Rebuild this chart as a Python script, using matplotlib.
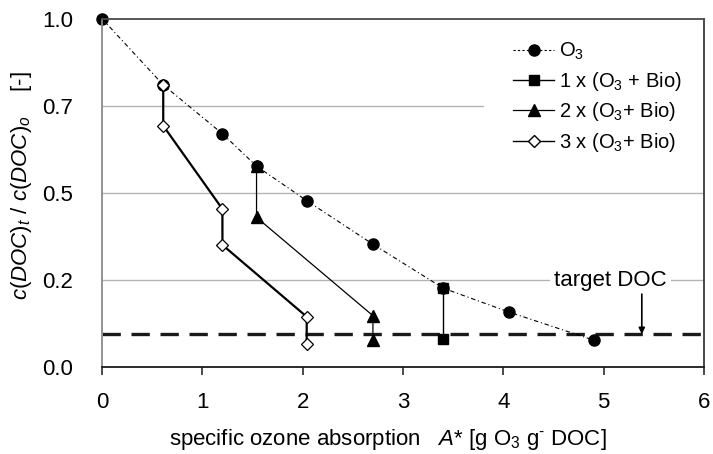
import matplotlib
matplotlib.use("Agg")
import matplotlib.pyplot as plt
from matplotlib.lines import Line2D
from matplotlib.patches import Rectangle

plt.rcParams["font.family"] = ["Liberation Sans", "DejaVu Sans"]
plt.rcParams["mathtext.fontset"] = "custom"
plt.rcParams["mathtext.rm"] = "Liberation Sans"
plt.rcParams["mathtext.it"] = "Liberation Sans:italic"
plt.rcParams["mathtext.bf"] = "Liberation Sans:bold"

# Ozonation only
o3_x = [0.0, 0.61, 1.20, 1.54, 2.04, 2.70, 3.40, 4.06, 4.90]
o3_y = [1.0, 0.81, 0.670, 0.577, 0.478, 0.353, 0.227, 0.158, 0.078]

# One ozonation + biological step
bio1_x = [3.40, 3.40]
bio1_y = [0.227, 0.081]

# Two ozonation + biological steps
bio2_x = [1.54, 1.54, 2.70, 2.70]
bio2_y = [0.577, 0.430, 0.148, 0.078]

# Three ozonation + biological steps
bio3_x = [0.61, 0.61, 1.20, 1.20, 2.04, 2.04]
bio3_y = [0.81, 0.693, 0.454, 0.351, 0.145, 0.066]

target_doc = 0.095
target_arrow_x = 5.38

y_ticks = [0.0, 0.25, 0.5, 0.75, 1.0]
y_ticklabels = ["0.0", "0.2", "0.5", "0.7", "1.0"]
x_ticks = [0, 1, 2, 3, 4, 5, 6]

FS = 16

fig = plt.figure(figsize=(7.13, 4.54), dpi=100)
ax = fig.add_axes([0.1431, 0.1910, 0.8443, 0.7678])
ax.set_xlim(0, 6)
ax.set_ylim(0, 1)

# horizontal grid
for yv in y_ticks[1:-1]:
    ax.axhline(yv, color="#b4b4b4", lw=1.0, zorder=1)

# white panel behind the legend
ax.add_patch(Rectangle((0.635, 0.60), 0.37, 0.40, transform=ax.transAxes,
                       facecolor="white", edgecolor="none", zorder=2))

# target DOC level
ax.axhline(target_doc, color="#1a1a1a", lw=2.4, ls=(0, (5.5, 3.2)), zorder=3)

ms_c = 8.0
ax.plot(o3_x, o3_y, color="black", lw=0.8, ls=(0, (4, 2.5, 1, 2.5)),
        marker="o", ms=ms_c, mfc="black", mec="black", zorder=4, clip_on=False)
ax.plot(bio1_x, bio1_y, color="black", lw=1.0, marker="s", ms=7.0,
        mfc="black", mec="black", zorder=5)
ax.plot(bio2_x, bio2_y, color="black", lw=0.9, marker="^", ms=8.0,
        mfc="black", mec="black", zorder=5)
ax.plot(bio3_x, bio3_y, color="black", lw=1.6, marker="D", ms=6.5,
        mfc="white", mec="black", mew=0.9, zorder=6)

# annotation
ax.text(5.07, 0.25, "target DOC", fontsize=FS, ha="center", va="center",
        bbox=dict(facecolor="white", edgecolor="none", pad=3), zorder=5)
ax.annotate("", xy=(target_arrow_x, target_doc), xytext=(target_arrow_x, 0.21),
            arrowprops=dict(arrowstyle="-|>", color="black", lw=1.2,
                            mutation_scale=9, shrinkA=0, shrinkB=0), zorder=6)

# spines and ticks
ax.spines["left"].set_color("#8a8a8a")
ax.spines["top"].set_color("#4a4a4a")
ax.spines["right"].set_color("#3a3a3a")
ax.spines["bottom"].set_color("#1a1a1a")
for s in ax.spines.values():
    s.set_linewidth(1.3)
    s.set_zorder(7)

ax.set_xticks(x_ticks)
ax.set_xticklabels([str(v) for v in x_ticks])
ax.set_yticks(y_ticks)
ax.set_yticklabels(y_ticklabels)
ax.tick_params(axis="x", direction="out", length=6, width=1.1, pad=12,
               labelsize=FS, color="#1a1a1a")
ax.tick_params(axis="y", length=0, pad=21, labelsize=FS)

ax.set_ylabel(r"$c(DOC)_t$ / $c(DOC)_o$    [-]", fontsize=FS)
ax.yaxis.set_label_coords(-0.113, 0.52)
ax.set_xlabel(r"specific ozone absorption   $A$* [g O$_3$ g$^{\mathrm{‐}}$ DOC]", fontsize=FS)
ax.xaxis.set_label_coords(0.475, -0.172)

handles = [
    Line2D([], [], color="black", lw=0.8, ls=(0, (2, 2)), marker="o", ms=ms_c,
           mfc="black", mec="black"),
    Line2D([], [], color="black", lw=1.0, marker="s", ms=7.0, mfc="black", mec="black"),
    Line2D([], [], color="black", lw=0.9, marker="^", ms=8.0, mfc="black", mec="black"),
    Line2D([], [], color="black", lw=1.0, marker="D", ms=6.0, mfc="white", mec="black"),
]
labels = [r"O$_3$", r"1 x (O$_3$ + Bio)", r"2 x (O$_3$+ Bio)", r"3 x (O$_3$+ Bio)"]
leg = ax.legend(handles, labels, loc="upper left", bbox_to_anchor=(0.67, 0.96),
                frameon=False, fontsize=14.5, handlelength=2.0, handletextpad=0.25,
                labelspacing=0.38, borderaxespad=0)
leg.set_zorder(8)

fig.savefig("out.png", dpi=100, facecolor="white")
